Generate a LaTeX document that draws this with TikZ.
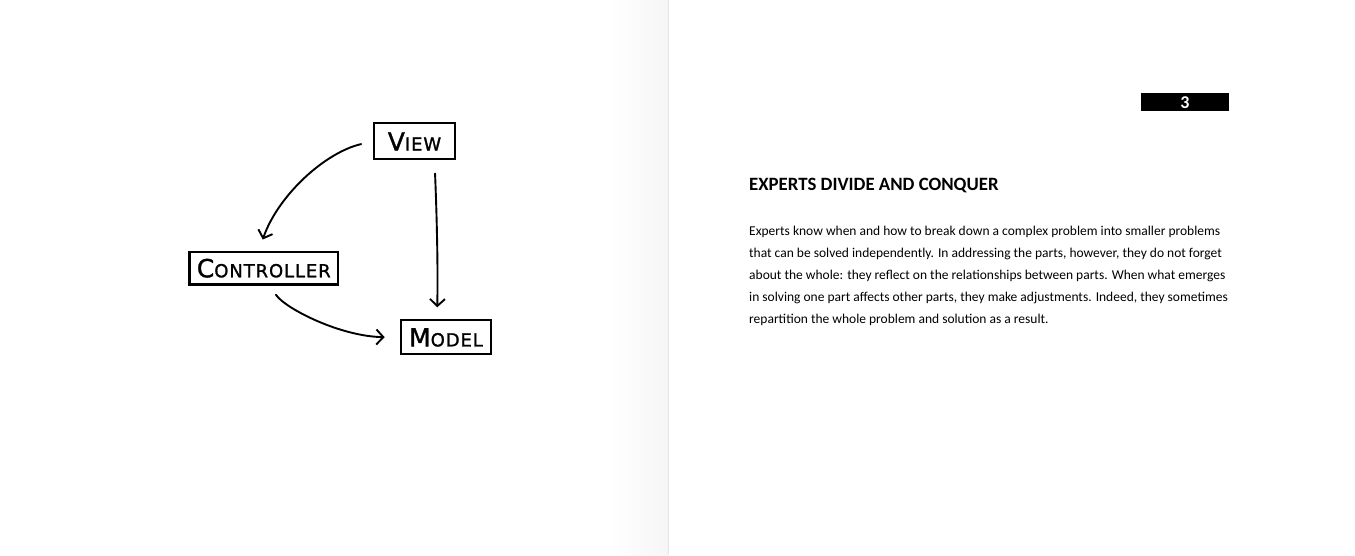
\documentclass[tikz,border=0pt]{standalone}
\usepackage{fontspec}
\setmainfont{Carlito}
\newfontfamily\handfont[FakeBold=1.3,LetterSpace=5]{DejaVu Sans}
\usetikzlibrary{arrows.meta,calc}

% hand-lettered small caps: large initial, smaller capitals after it
\newcommand\capword[2]{{\fontsize{25}{25}\selectfont #1}{\fontsize{18}{18}\selectfont #2}}

\begin{document}
\begin{tikzpicture}[x=1pt,y=-1pt,
  box/.style={draw=black, line width=2.2pt, inner sep=0pt, font=\handfont},
  arr/.style={line width=1.9pt, line cap=round,
    -{Straight Barb[length=7pt,width=15pt,line width=1.9pt]}},
  body/.style={anchor=base west, inner sep=0pt, font=\fontsize{13.5}{15}\selectfont},
  head/.style={anchor=base west, inner sep=0pt, font=\bfseries\fontsize{18.8}{20}\selectfont}]

% page spread
\fill[white] (0,0) rectangle (1355,555);
\shade[left color=white, right color=black!3.5] (610,0) rectangle (668,555);
\draw[black!10, line width=0.8pt] (668,0) -- (668,555);
\useasboundingbox (0,0) rectangle (1355,555);

% MVC diagram
\node[box, minimum width=81pt, minimum height=36pt] (view) at (414.5,141) {\capword{V}{IEW}};
\node[box, minimum width=148.5pt, minimum height=32.5pt] (ctrl) at (263.8,267.8) {\capword{C}{ONTROLLER}};
\node[box, minimum width=90.5pt, minimum height=34pt] (model) at (446,337) {\capword{M}{ODEL}};

\draw[arr, shorten <=12pt, shorten >=12pt]
  (view.west) .. controls (325,152) and (278,195) .. ([xshift=-5pt]ctrl.north);
\draw[arr, shorten <=13pt, shorten >=12pt]
  ([xshift=20pt]view.south) .. controls (437,220) and (438,270) .. ([xshift=-9pt]model.north);
\draw[arr, shorten <=11pt, shorten >=15pt]
  ([xshift=6pt]ctrl.south) .. controls (285,308) and (340,336) .. (model.west);

% right page
\node[fill=black, minimum width=88pt, minimum height=18pt, inner sep=0pt,
      text=white, font=\bfseries\fontsize{18}{18}\selectfont] (pageno) at (1185,102) {3};
\node[head] (title) at (749,190) {EXPERTS DIVIDE AND CONQUER};
\node[body] (l1) at (749,235.5) {Experts know when and how to break down a complex problem into smaller problems};
\node[body] (l2) at (749,257.3) {that can be solved independently. In addressing the parts, however, they do not forget};
\node[body] (l3) at (749,279.1) {about the whole: they reflect on the relationships between parts. When what emerges};
\node[body] (l4) at (749,300.9) {in solving one part affects other parts, they make adjustments. Indeed, they sometimes};
\node[body] (l5) at (749,322.7) {repartition the whole problem and solution as a result.};
\end{tikzpicture}
\end{document}
